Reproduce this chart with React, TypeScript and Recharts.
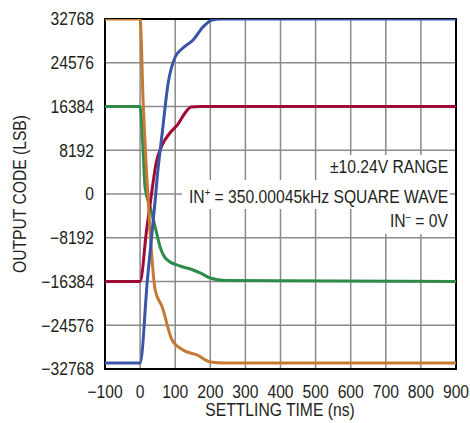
import React from 'react';
import { LineChart, Line, XAxis, YAxis, CartesianGrid, ReferenceArea } from 'recharts';

// settling time (ns) and output code for each edge
const blueT = [-100, 0, 21, 43, 48, 63, 80, 100, 122, 151, 179, 205, 230, 900];
const blueV = [-31640, -31640, -15900, -1120, 2620, 11420, 20780, 25650, 27330, 28830, 31260, 32580, 32768, 32768];

const orangeT = [-100, 0, 8.5, 23, 43, 63, 91, 122, 162, 200, 240, 900];
const orangeV = [32768, 32768, 17600, -1120, -17970, -21150, -27330, -29200, -30140, -31450, -31640, -31640];

const redT = [-100, 0, 18.5, 34, 45.6, 63, 85, 108, 128, 145, 171, 900];
const redV = [-16384, -16384, -6740, 750, 5800, 9170, 11420, 13100, 15160, 16290, 16384, 16384];

const greenT = [-100, 0, 8.5, 14, 28.5, 43, 57, 77, 114, 151, 171, 200, 242, 900];
const greenV = [16384, 16384, 8240, 1310, -2430, -6180, -9920, -12350, -13480, -14230, -14790, -15730, -16200, -16384];

const xTicks = [-100, 0, 100, 200, 300, 400, 500, 600, 700, 800, 900];
const yTicks = [-32768, -24576, -16384, -8192, 0, 8192, 16384, 24576, 32768];

const zip = (t: number[], v: number[]) => t.map((x, i) => ({ t: x, v: v[i] }));

const FONT = '"Liberation Sans", Arial, sans-serif';
const INK = '#231f20';
const SQUEEZE = 0.87; // fake a condensed face
const fmt = (n: number) => String(n).replace('-', '\u2212');

const XTick = (p: any) => (
  <text transform={`translate(${p.x},${p.y}) scale(${SQUEEZE},1)`} textAnchor="middle" dy="0.71em"
    fill={INK} fontSize={18} fontFamily={FONT}>
    {fmt(p.payload.value)}
  </text>
);

const YTick = (p: any) => (
  <text transform={`translate(${p.x},${p.y}) scale(${SQUEEZE},1)`} textAnchor="end" dy="0.355em"
    fill={INK} fontSize={18} fontFamily={FONT}>
    {fmt(p.payload.value)}
  </text>
);

export default function App() {
  const note: React.CSSProperties = { textAlign: 'right', height: 24.5, lineHeight: '24.5px', whiteSpace: 'nowrap' };
  const bg: React.CSSProperties = {
    background: '#fff', padding: '0 2px 0 8px', display: 'inline-block',
    transform: `scaleX(${SQUEEZE})`, transformOrigin: 'right center',
  };
  const sup: React.CSSProperties = { fontSize: 11 };

  return (
    <div style={{ position: 'absolute', left: 0, top: 0, width: 470, height: 423, background: '#fff', fontFamily: FONT, color: INK }}>
      <LineChart width={470} height={423} margin={{ top: 19, right: 14, bottom: 24, left: 30 }}>
        <CartesianGrid stroke="#8a8a8a" strokeWidth={1.5} />
        <XAxis
          dataKey="t"
          type="number"
          domain={[-100, 900]}
          ticks={xTicks}
          height={30}
          tickSize={0}
          tickMargin={16}
          axisLine={false}
          tick={<XTick />}
          allowDataOverflow
        />
        <YAxis
          type="number"
          domain={[-32768, 32768]}
          ticks={yTicks}
          width={75}
          tickSize={0}
          tickMargin={11}
          axisLine={false}
          tick={<YTick />}
          allowDataOverflow
        />
        <Line data={zip(greenT, greenV)} dataKey="v" type="monotone" stroke="#2e8b48" strokeWidth={3} dot={false} isAnimationActive={false} />
        <Line data={zip(redT, redV)} dataKey="v" type="monotone" stroke="#a10a35" strokeWidth={3} dot={false} isAnimationActive={false} />
        <Line data={zip(orangeT, orangeV)} dataKey="v" type="monotone" stroke="#c47a35" strokeWidth={3} dot={false} isAnimationActive={false} />
        <Line data={zip(blueT, blueV)} dataKey="v" type="monotone" stroke="#3a55a8" strokeWidth={3} dot={false} isAnimationActive={false} />
        <ReferenceArea x1={-100} x2={900} y1={-32768} y2={32768} fill="none" stroke="#000" strokeWidth={2} ifOverflow="visible" />
      </LineChart>

      <div style={{ position: 'absolute', top: 155, right: 20, fontSize: 18 }}>
        <div style={note}><span style={bg}>±10.24V RANGE</span></div>
        <div style={note}><span style={bg}>IN<sup style={sup}>+</sup> = 350.00045kHz SQUARE WAVE</span></div>
        <div style={note}><span style={bg}>IN<sup style={sup}>–</sup> = 0V</span></div>
      </div>

      <div style={{ position: 'absolute', left: 280, top: 400, transform: `translateX(-50%) scaleX(${SQUEEZE})`, fontSize: 18, whiteSpace: 'nowrap' }}>
        SETTLING TIME (ns)
      </div>
      <div style={{ position: 'absolute', left: 20, top: 194, transform: `translate(-50%, -50%) rotate(-90deg) scaleX(${SQUEEZE})`, fontSize: 18, whiteSpace: 'nowrap' }}>
        OUTPUT CODE (LSB)
      </div>
    </div>
  );
}
